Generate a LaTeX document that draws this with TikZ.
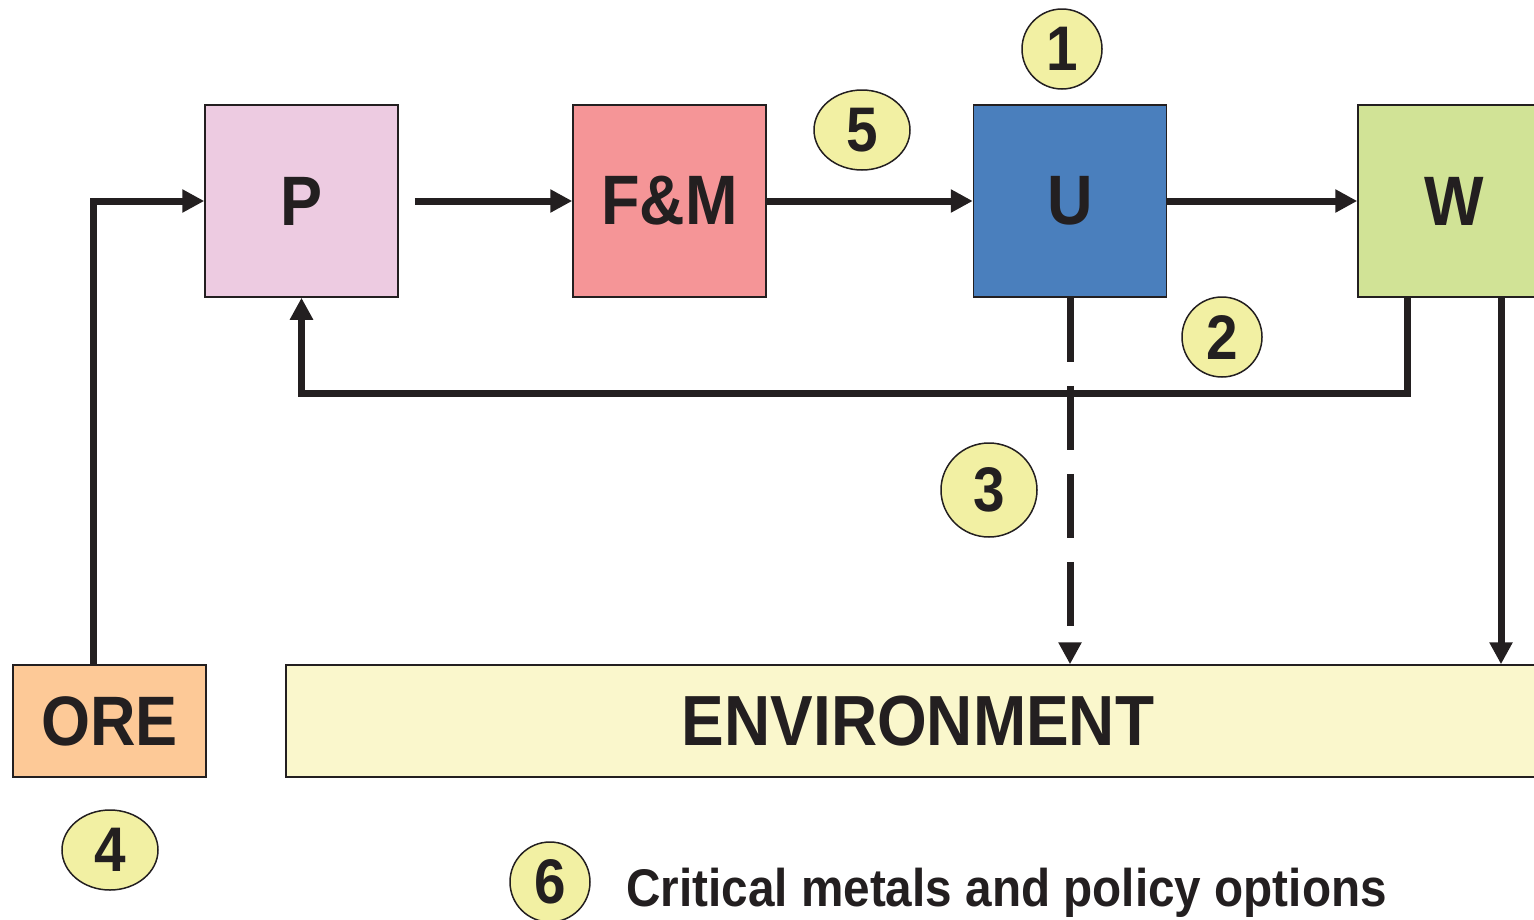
\documentclass[tikz,border=0pt]{standalone}
\usepackage{fontspec}
\setmainfont{Liberation Sans}[FakeStretch=0.9]
\usetikzlibrary{arrows.meta,shapes.geometric}
\definecolor{dk}{HTML}{231F20}
\definecolor{cP}{HTML}{EDCBE1}
\definecolor{cFM}{HTML}{F59597}
\definecolor{cU}{HTML}{4A7FBD}
\definecolor{cW}{HTML}{D1E396}
\definecolor{cORE}{HTML}{FDC997}
\definecolor{cENV}{HTML}{FAF7CC}
\definecolor{cCirc}{HTML}{F2F0A3}
\begin{document}
\begin{tikzpicture}[x=1pt,y=-1pt,
  box/.style={draw=dk, line width=1.5pt, inner sep=0pt, minimum width=193pt, minimum height=192pt,
    text=dk, font=\fontsize{70}{70}\selectfont\bfseries},
  num/.style={ellipse, draw=dk, line width=1.5pt, fill=cCirc, inner sep=0pt, minimum width=80pt, minimum height=80pt,
    text=dk, font=\fontsize{63}{63}\selectfont\bfseries},
  arr/.style={draw=dk, line width=7pt, -{Triangle[length=22pt,width=22pt]}},
  dashedarr/.style={arr, dash pattern=on 64pt off 24pt}
]
\useasboundingbox (0,0) rectangle (1534,919);
% boxes
\node[box, fill=cP] (P) at (301.5,201) {P};
\node[box, fill=cFM] (FM) at (669.5,201) {F\&M};
\node[box, fill=cU] (U) at (1070,201) {U};
\node[box, fill=cW] (W) at (1454.5,201) {W};
\node[box, fill=cORE, minimum height=112pt] (ORE) at (109.5,721) {ORE};
\node[box, fill=cENV, minimum height=112pt, minimum width=1264pt, font=\fontsize{71}{71}\selectfont\bfseries] (ENV) at (918,721) {ENVIRONMENT};
% numbered circles
\node[num] (n1) at (1062,49) {1};
\node[num, minimum width=96pt] (n5) at (862,130) {5};
\node[num] (n2) at (1222,337) {2};
\node[num, minimum width=96pt, minimum height=94pt] (n3) at (989,490) {3};
\node[num, minimum width=96pt] (n4) at (110,850) {4};
\node[num] (n6) at (550,882) {6};
\node[anchor=west, text=dk, inner sep=0pt, font=\fontsize{53}{53}\selectfont\bfseries] (title) at (626,893) {Critical metals and policy options};
% connectors
\coordinate (oreTop) at (93,665);
\coordinate (wLeft) at (1407,297);
\coordinate (wRight) at (1501,297);
\draw[arr] (oreTop) |- (P.west);
\draw[arr, shorten <=16pt] (P.east) -- (FM.west);
\draw[arr] (FM.east) -- (U.west);
\draw[arr] (U.east) -- (W.west);
\draw[arr] (wLeft) |- ([yshift=-96pt]P.south) -- (P.south);
\draw[dashedarr] (U.south) -- (U.south |- ENV.north);
\draw[arr] (wRight) -- (wRight |- ENV.north);
\end{tikzpicture}
\end{document}
